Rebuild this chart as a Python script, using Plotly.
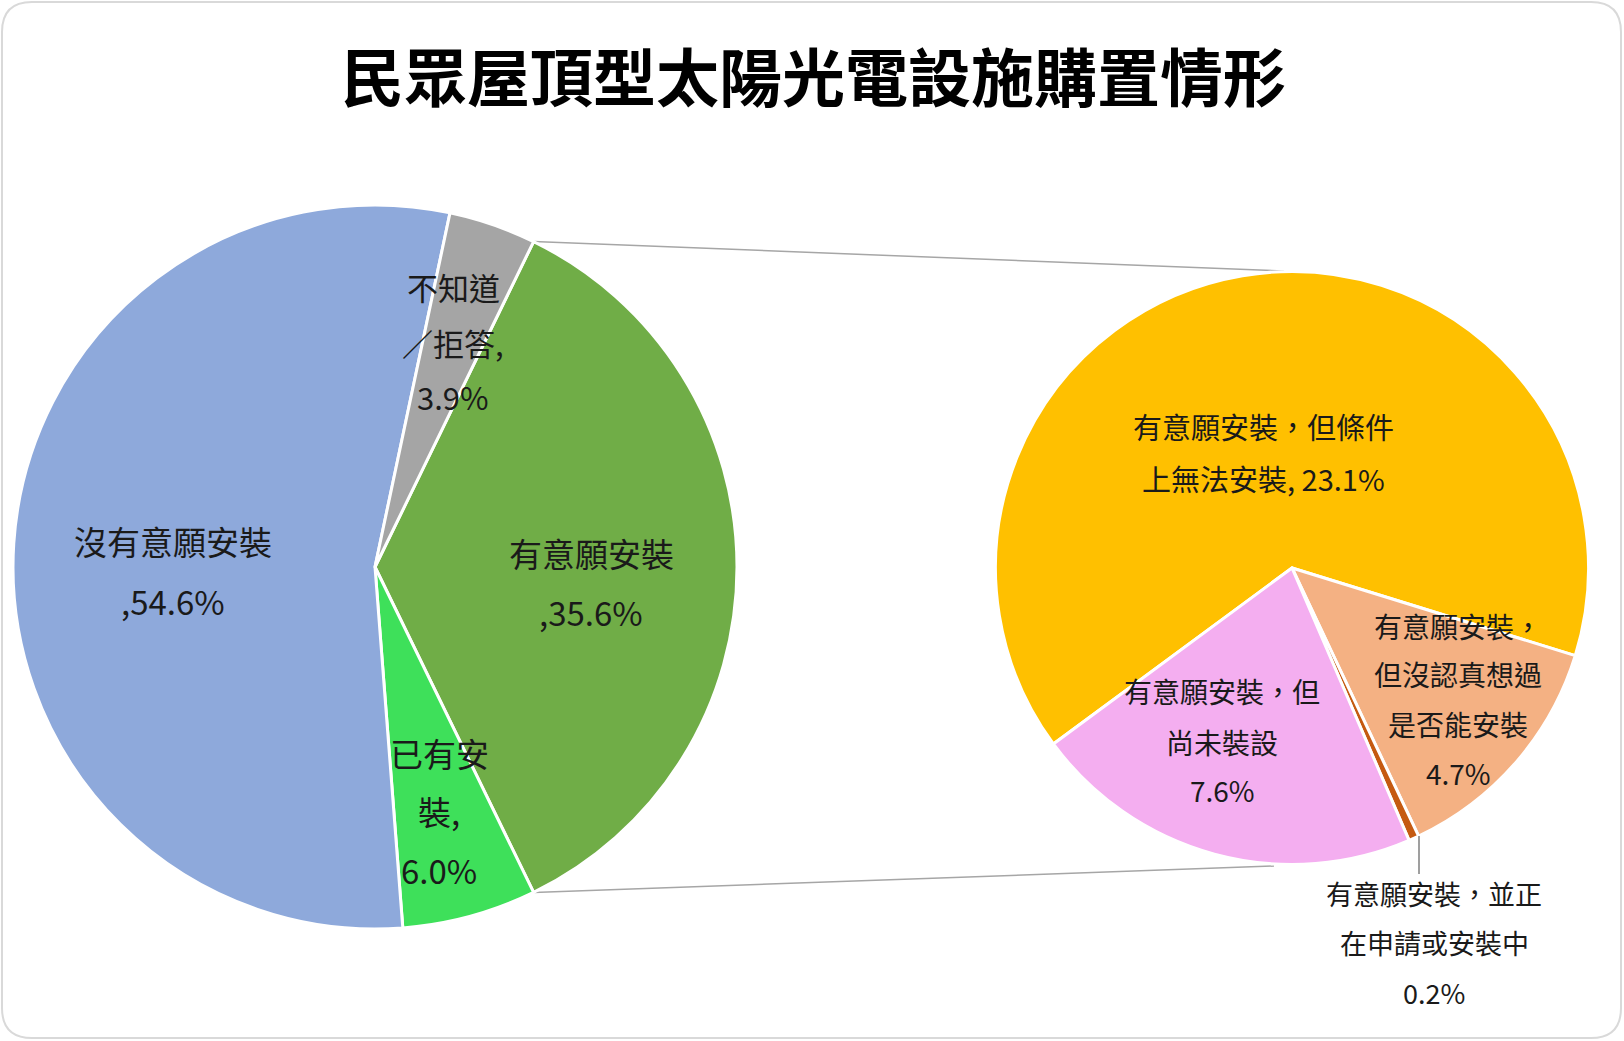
import plotly.graph_objects as go
import math

# ---- data ----
main_labels = ["有意願安裝", "已有安裝", "沒有意願安裝", "不知道／拒答"]
main_values = [35.6, 6.0, 54.6, 3.9]
main_colors = ["#70AD47", "#3EE05A", "#8EA9DB", "#A5A5A5"]

sub_labels = ["有意願安裝，但條件上無法安裝", "有意願安裝，但沒認真想過是否能安裝",
              "有意願安裝，並正在申請或安裝中", "有意願安裝，但尚未裝設"]
sub_values = [23.1, 4.7, 0.2, 7.6]
sub_colors = ["#FFC000", "#F4B183", "#C55A11", "#F4AEF0"]

title_text = "民眾屋頂型太陽光電設施購置情形"

# label text lines (from the chart)
main_label_lines = {
    "沒有意願安裝": ["沒有意願安裝", ",54.6%"],
    "不知道／拒答": ["不知道", "／拒答,", "3.9%"],
    "有意願安裝": ["有意願安裝", ",35.6%"],
    "已有安裝": ["已有安", "裝,", "6.0%"],
}
sub_label_lines = {
    "有意願安裝，但條件上無法安裝": ["有意願安裝，但條件", "上無法安裝, 23.1%"],
    "有意願安裝，但尚未裝設": ["有意願安裝，但", "尚未裝設", "7.6%"],
    "有意願安裝，但沒認真想過是否能安裝": ["有意願安裝，", "但沒認真想過", "是否能安裝", "4.7%"],
    "有意願安裝，並正在申請或安裝中": ["有意願安裝，並正", "在申請或安裝中", "0.2%"],
}

W, H = 1624, 1041
FONT = "Noto Sans CJK TC"

# geometry (pixels)
L_cx, L_cy, L_r = 375, 567, 362
R_cx, R_cy, R_r = 1292, 568, 296.5

def px(x):
    return x / W

def py(y):
    return 1 - y / H

main_rotation = 90 - main_values[0] / sum(main_values) * 180
sub_rotation = 233.6

fig = go.Figure()
fig.add_trace(go.Pie(
    labels=main_labels, values=main_values, sort=False, direction="clockwise",
    rotation=main_rotation, textinfo="none", hoverinfo="label+percent",
    marker=dict(colors=main_colors, line=dict(color="white", width=3)),
    domain=dict(x=[px(L_cx - L_r), px(L_cx + L_r)], y=[py(L_cy + L_r), py(L_cy - L_r)]),
    showlegend=False,
))
fig.add_trace(go.Pie(
    labels=sub_labels, values=sub_values, sort=False, direction="clockwise",
    rotation=sub_rotation, textinfo="none", hoverinfo="label+value",
    marker=dict(colors=sub_colors, line=dict(color="white", width=3)),
    domain=dict(x=[px(R_cx - R_r), px(R_cx + R_r)], y=[py(R_cy + R_r), py(R_cy - R_r)]),
    showlegend=False,
))

# connector lines from the split slice edges to the secondary pie
a0 = math.radians(main_rotation)
a1 = math.radians(main_rotation + main_values[0] / sum(main_values) * 360)
p_top = (L_cx + L_r * math.sin(a0), L_cy - L_r * math.cos(a0))
p_bot = (L_cx + L_r * math.sin(a1), L_cy - L_r * math.cos(a1))
q_top = (1284, 271)
q_bot = (1274, 866)
shapes = []
for p, q in [(p_top, q_top), (p_bot, q_bot)]:
    shapes.append(dict(type="line", xref="paper", yref="paper",
                       x0=px(p[0]), y0=py(p[1]), x1=px(q[0]), y1=py(q[1]),
                       line=dict(color="#A6A6A6", width=1.5), layer="below"))
# leader line for the tiny slice
shapes.append(dict(type="line", xref="paper", yref="paper",
                   x0=px(1419), y0=py(836), x1=px(1419), y1=py(874),
                   line=dict(color="#7F7F7F", width=1.5)))
# rounded frame
r = 30
x0, y0, x1, y1 = 2, 2, W - 3, H - 3
path = (f"M {px(x0 + r)} {py(y0)} L {px(x1 - r)} {py(y0)} "
        f"Q {px(x1)} {py(y0)} {px(x1)} {py(y0 + r)} "
        f"L {px(x1)} {py(y1 - r)} Q {px(x1)} {py(y1)} {px(x1 - r)} {py(y1)} "
        f"L {px(x0 + r)} {py(y1)} Q {px(x0)} {py(y1)} {px(x0)} {py(y1 - r)} "
        f"L {px(x0)} {py(y0 + r)} Q {px(x0)} {py(y0)} {px(x0 + r)} {py(y0)} Z")
shapes.append(dict(type="path", xref="paper", yref="paper", path=path,
                   line=dict(color="#D9D9D9", width=2), layer="below"))

annotations = []

def add_lines(lines, x, ys, size):
    for t, y in zip(lines, ys):
        annotations.append(dict(text=t, x=px(x), y=py(y), xref="paper", yref="paper",
                                showarrow=False, xanchor="center", yanchor="middle",
                                font=dict(family=FONT, size=size, color="#1A1A1A")))

add_lines(main_label_lines["沒有意願安裝"], 173, [541, 601], 33)
add_lines(main_label_lines["不知道／拒答"], 453, [286, 342, 396], 31)
add_lines(main_label_lines["有意願安裝"], 591, [553, 612], 33)
add_lines(main_label_lines["已有安裝"], 439, [753, 811, 870], 33)

add_lines(sub_label_lines["有意願安裝，但條件上無法安裝"], 1263, [426, 478], 29)
add_lines(sub_label_lines["有意願安裝，但尚未裝設"], 1222, [691, 742, 790], 28)
add_lines(sub_label_lines["有意願安裝，但沒認真想過是否能安裝"], 1458, [626, 674, 724, 773], 28)
add_lines(sub_label_lines["有意願安裝，並正在申請或安裝中"], 1434, [893, 942, 992], 27)

annotations.append(dict(text=f"<b>{title_text}</b>", x=px(813), y=py(74), xref="paper", yref="paper",
                        showarrow=False, xanchor="center", yanchor="middle",
                        font=dict(family=FONT, size=63, color="#000000")))

fig.update_layout(
    width=W, height=H, margin=dict(l=0, r=0, t=0, b=0),
    paper_bgcolor="white", plot_bgcolor="white",
    shapes=shapes, annotations=annotations,
)

fig.write_html("out.html")
